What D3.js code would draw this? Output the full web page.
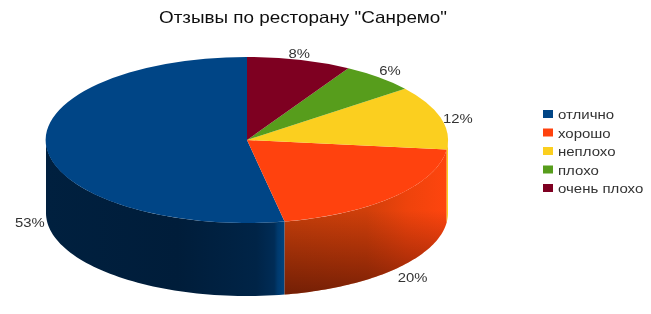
<!DOCTYPE html>
<html>
<head>
<meta charset="utf-8">
<script src="https://cdn.jsdelivr.net/npm/d3@7"></script>
<style>
  html, body { margin: 0; padding: 0; background: #fff; }
  svg { display: block; }
  text { font-family: "Liberation Sans", sans-serif; fill: #333; }
</style>
</head>
<body>
<script>
const categories = ["отлично", "хорошо", "неплохо", "плохо", "очень плохо"];
const values = [53, 20.2, 12.4, 6, 8.4];
const colors = ["#004586", "#ff420e", "#fbcf1f", "#579d1c", "#7e0021"];
const chartTitle = 'Отзывы по ресторану "Санремо"';

const width = 651, height = 314;
const cx = 247, cy = 140, rx = 201, ry = 83, depth = 73;
// small hand nudges for the percent labels
const labelNudge = [[1, 1], [5, 3], [0, 3], [-1, -1], [-5, 1]];

const svg = d3.select("body").append("svg")
    .attr("width", width)
    .attr("height", height);

const pie = d3.pie().sort(null).startAngle(0).endAngle(-2 * Math.PI);
const slices = pie(values);

const arc = d3.arc().innerRadius(0).outerRadius(1);
const labelArc = d3.arc().innerRadius(1.09).outerRadius(1.09);

const px = a => cx + rx * Math.sin(a);
const py = a => cy - ry * Math.cos(a);

// side wall of a slice, only the part facing the viewer
function wallPath(d) {
  const twoPi = 2 * Math.PI;
  let a0 = d.endAngle + twoPi, a1 = d.startAngle + twoPi;
  a0 = Math.max(a0, Math.PI / 2);
  a1 = Math.min(a1, 3 * Math.PI / 2);
  if (a1 <= a0) return null;
  const steps = d3.range(0, 61).map(i => a0 + (a1 - a0) * i / 60);
  const line = d3.line();
  const top = steps.map(a => [px(a), py(a)]);
  const bottom = steps.slice().reverse().map(a => [px(a), py(a) + depth]);
  return line(top.concat(bottom)) + "Z";
}

const defs = svg.append("defs");
const blueWall = defs.append("linearGradient").attr("id", "wall0")
    .attr("gradientUnits", "userSpaceOnUse")
    .attr("x1", 46).attr("x2", 285).attr("y1", 0).attr("y2", 0);
[[0, "#00203f"], [0.55, "#001d3a"], [0.88, "#002447"], [0.955, "#002c56"], [0.97, "#003a6e"], [1, "#004480"]]
  .forEach(s => blueWall.append("stop").attr("offset", s[0]).attr("stop-color", s[1]));

const redWall = defs.append("linearGradient").attr("id", "wall1")
    .attr("gradientUnits", "userSpaceOnUse")
    .attr("x1", 285).attr("x2", 448).attr("y1", 0).attr("y2", 0);
[[0, "#c43e0a"], [0.5, "#d03f0a"], [0.75, "#ee430c"], [1, "#ff450e"]]
  .forEach(s => redWall.append("stop").attr("offset", s[0]).attr("stop-color", s[1]));

const shade = defs.append("linearGradient").attr("id", "shade")
    .attr("x1", 0).attr("x2", 0).attr("y1", 0).attr("y2", 1);
shade.append("stop").attr("offset", 0.42).attr("stop-color", "#200").attr("stop-opacity", 0);
shade.append("stop").attr("offset", 1).attr("stop-color", "#200").attr("stop-opacity", 0.5);

const soft = defs.append("filter").attr("id", "soft");
soft.append("feGaussianBlur").attr("stdDeviation", 0.3);

const walls = svg.append("g");
slices.forEach((d, i) => {
  const path = wallPath(d);
  if (!path) return;
  walls.append("path").attr("d", path)
      .attr("fill", i < 2 ? `url(#wall${i})` : colors[i]);
  if (i === 1) walls.append("path").attr("d", path).attr("fill", "url(#shade)");
});

svg.append("g")
    .attr("transform", `translate(${cx},${cy}) scale(${rx},${ry})`)
  .selectAll("path")
  .data(slices)
  .enter().append("path")
    .attr("d", arc)
    .attr("fill", (d, i) => colors[i]);

svg.append("g").attr("filter", "url(#soft)").selectAll("text")
  .data(slices)
  .enter().append("text")
    .attr("transform", (d, i) => {
      const c = labelArc.centroid(d);
      const x = cx + rx * c[0] + labelNudge[i][0];
      const y = cy + ry * c[1] + (c[1] > 0 ? depth : 0) + labelNudge[i][1];
      return `translate(${x},${y}) scale(1.1,1)`;
    })
    .attr("dy", ".35em")
    .attr("text-anchor", "middle")
    .attr("font-size", 13.5)
    .text(d => `${Math.round(d.data)}%`);

svg.append("text")
    .attr("x", 159)
    .attr("y", 23)
    .attr("font-size", 16.5)
    .attr("textLength", 288)
    .attr("lengthAdjust", "spacingAndGlyphs")
    .attr("filter", "url(#soft)")
    .style("fill", "#111")
    .text(chartTitle);

const legendY = d3.scalePoint().domain(categories).range([114, 188]);
const legend = svg.append("g").selectAll("g")
  .data(categories)
  .enter().append("g")
    .attr("transform", d => `translate(543,${legendY(d)})`);

legend.append("rect")
    .attr("y", -4)
    .attr("width", 10)
    .attr("height", 8)
    .attr("fill", (d, i) => colors[i]);

legend.append("text")
    .attr("transform", "translate(15,1) scale(1.2,1)")
    .attr("dy", ".35em")
    .attr("font-size", 12.5)
    .attr("filter", "url(#soft)")
    .text(d => d);
</script>
</body>
</html>
